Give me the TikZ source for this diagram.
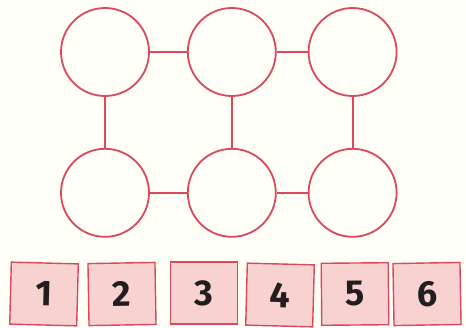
\documentclass[tikz,border=0pt]{standalone}
\usepackage{fontspec}
\setsansfont{Fira Sans}
\usetikzlibrary{positioning}
\definecolor{ringred}{RGB}{218,72,92}
\definecolor{tilepink}{RGB}{247,210,208}
\definecolor{digitink}{RGB}{34,30,32}

\begin{document}
\begin{tikzpicture}[x=1pt,y=-1pt,node distance=51pt and 35pt]
  \tikzset{
    ring/.style={draw=ringred,line width=1.8pt,circle,minimum size=88pt,inner sep=0pt},
    link/.style={draw=ringred,line width=1.8pt},
    tile/.style={draw=ringred,line width=1.4pt,fill=tilepink,minimum width=67pt,minimum height=62pt,inner sep=0pt,
      font=\sffamily\bfseries\fontsize{36}{36}\selectfont,text=digitink}
  }
  \useasboundingbox (0,0) rectangle (466,327);
  \fill[white!97!yellow] (0,0) rectangle (466,327);
  \node (tl) [ring] at (105,52) {};
  \node (tm) [ring,right=37pt of tl] {};
  \node (tr) [ring,right=31pt of tm] {};
  \node (bl) [ring,below=of tl] {};
  \node (bm) [ring,below=of tm] {};
  \node (br) [ring,below=of tr] {};
  \draw[link] (tl) -- (tm);
  \draw[link] (tm) -- (tr);
  \draw[link] (bl) -- (bm);
  \draw[link] (bm) -- (br);
  \draw[link] (tl) -- (bl);
  \draw[link] (tm) -- (bm);
  \draw[link] (tr) -- (br);
  % number tiles
  \node (n1) [tile,rotate=-1.5] at (44,294) {1};
  \node (n2) [tile,rotate=1] at (122,294) {2};
  \node (n3) [tile] at (204,293) {3};
  \node (n4) [tile,rotate=-1.5] at (280,295) {4};
  \node (n5) [tile,rotate=0.5] at (355,294) {5};
  \node (n6) [tile,rotate=1] at (427,294) {6};
\end{tikzpicture}
\end{document}
